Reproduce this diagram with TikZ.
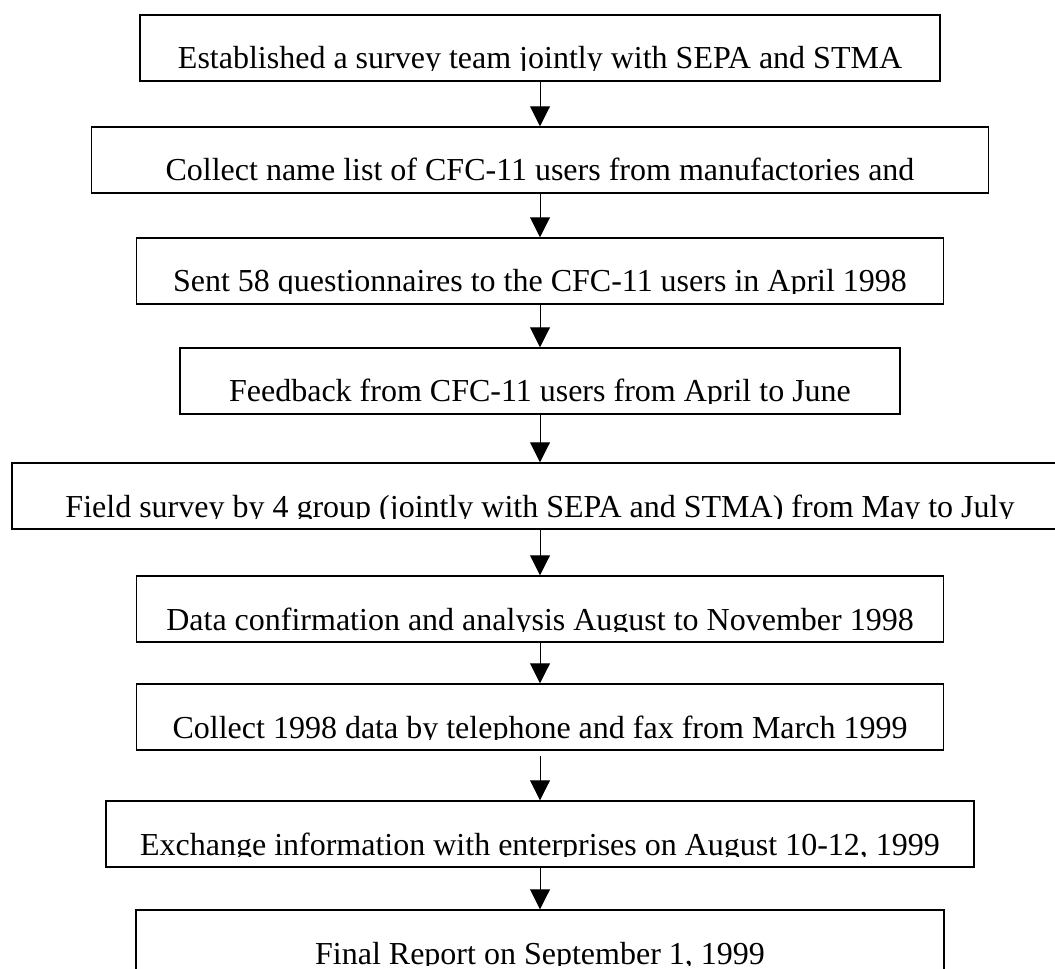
\documentclass[tikz,border=0pt]{standalone}
\usepackage{fontspec}
\setmainfont{Liberation Serif}
\usetikzlibrary{arrows.meta}

\tikzset{
	stage/.style={draw, line width=1.1pt, rectangle, minimum height=66*0.75pt, inner sep=0pt},
	stagetext/.style={anchor=base, inner sep=0pt, font=\fontsize{24pt}{28pt}\selectfont},
	flow/.style={line width=0.75pt, -{Triangle[length=15pt,width=15pt]}}
}

\begin{document}
\begin{tikzpicture}[x=0.75pt,y=-0.75pt]
	\useasboundingbox (0,0) rectangle (1055,969);
	\clip (0,0) rectangle (1055,969);
	% boxes: number / width / top / text
	\foreach \n/\w/\t/\txt in {
		1/800/15/{Established a survey team jointly with SEPA and STMA},
		2/897/127/{Collect name list of CFC-11 users from manufactories and},
		3/807/238/{Sent 58 questionnaires to the CFC-11 users in April 1998},
		4/720/348/{Feedback from CFC-11 users from April to June},
		5/1056/463/{Field survey by 4 group (jointly with SEPA and STMA) from May to July},
		6/807/576/{Data confirmation and analysis August to November 1998},
		7/807/684/{Collect 1998 data by telephone and fax from March 1999},
		8/868/801/{Exchange information with enterprises on August 10-12, 1999},
		9/808/910/{Final Report on September 1, 1999}}
	{
		\node[stage, minimum width=\w*0.75pt] (b\n) at (540,\t+33) {};
		\begin{scope}
			\clip (540-\w/2,\t) rectangle (540+\w/2,\t+55.5);
			\node[stagetext] (t\n) at (540,\t+54) {\txt};
		\end{scope}
	}
	% arrows
	\foreach \a/\b/\g in {1/2/0, 2/3/0, 3/4/0, 4/5/0, 5/6/0, 6/7/0, 7/8/5, 8/9/0}
		\draw[flow, shorten <=\g*0.75pt] (b\a.south) -- (b\b.north);
\end{tikzpicture}
\end{document}
